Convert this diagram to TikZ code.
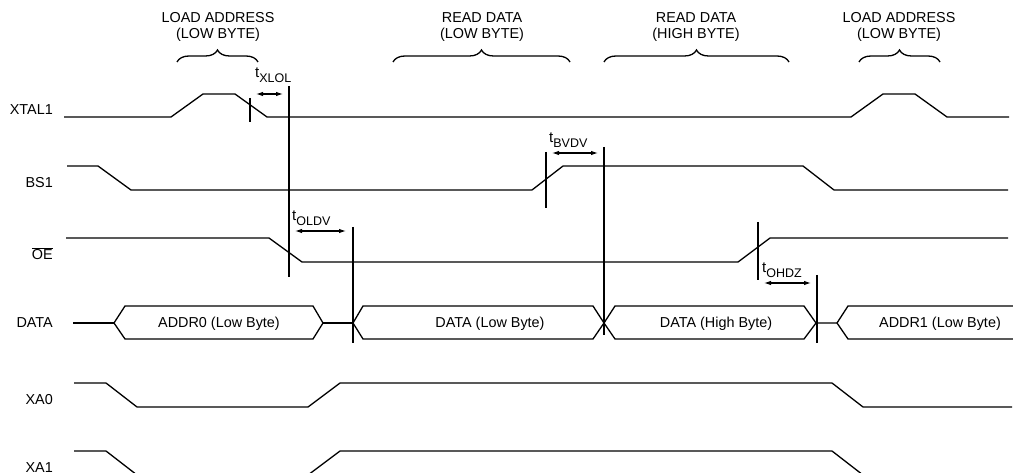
\documentclass[tikz,border=0pt]{standalone}
\usepackage{fontspec}
\setmainfont{Liberation Sans}
\usetikzlibrary{arrows.meta,decorations.pathreplacing}
\newcommand\tsb[1]{\raisebox{-0.28em}{\fontsize{12.5bp}{12.5bp}\selectfont #1}}
\begin{document}
\begin{tikzpicture}[x=1bp,y=-1bp,
 wave/.style={line width=1.3bp,line join=miter,line cap=butt},
 vrule/.style={line width=1.1bp},
 dimarr/.style={line width=1.1bp,{Latex[length=7bp,width=4.5bp]}-{Latex[length=7bp,width=4.5bp]}},
 txt/.style={font=\fontsize{14.4bp}{16bp}\selectfont, inner sep=0pt},
 sigl/.style={txt,anchor=base east},
 tlab/.style={txt,anchor=base west,font=\fontsize{15bp}{16bp}\selectfont},
 brc/.style={decorate,decoration={brace,amplitude=12bp},line width=1.3bp}]
\clip (0,0) rectangle (1013,473);
\fill[white] (0,0) rectangle (1013,473);
% signal names
\node[sigl] (nx) at (53,115) {XTAL1};
\node[sigl] (nb) at (53,188) {BS1};
\node[sigl] (no) at (53,260) {$\overline{\mbox{OE}}$};
\node[sigl] (nd) at (53,328) {DATA};
\node[sigl] (na0) at (53,405) {XA0};
\node[sigl] (na1) at (53,472) {XA1};
% phase labels
\node[txt,anchor=base] (p1a) at (218,23) {LOAD ADDRESS};
\node[txt,anchor=base] (p1b) at (218,39) {(LOW BYTE)};
\node[txt,anchor=base] (p2a) at (482,23) {READ DATA};
\node[txt,anchor=base] (p2b) at (482,39) {(LOW BYTE)};
\node[txt,anchor=base] (p3a) at (696,23) {READ DATA};
\node[txt,anchor=base] (p3b) at (696,39) {(HIGH BYTE)};
\node[txt,anchor=base] (p4a) at (899,23) {LOAD ADDRESS};
\node[txt,anchor=base] (p4b) at (899,39) {(LOW BYTE)};
\draw[brc] (177,62) -- (258,62);
\draw[brc] (393,62) -- (570,62);
\draw[brc] (604,62) -- (789,62);
\draw[brc] (859,62) -- (940,62);
% waveforms
\draw[wave] (64,117) -- (171,117) -- (203,94) -- (235,94) -- (267,117) -- (851,117) -- (883,94) -- (915,94) -- (947,117) -- (1009,117);
\draw[wave] (67,166) -- (98,166) -- (131,190) -- (532,190) -- (563,166) -- (803,166) -- (834,190) -- (1008,190);
\draw[wave] (66,238) -- (269,238) -- (302,262) -- (738,262) -- (770,238) -- (1008,238);
\draw[wave] (73,323) -- (114,323);
\draw[wave] (114,323) -- (125,306) -- (313,306) -- (323,323) -- (313,339) -- (125,339) -- cycle;
\draw[wave] (323,323) -- (353,323);
\draw[wave] (353,323) -- (363,306) -- (593,306) -- (604,323) -- (593,339) -- (363,339) -- cycle;
\draw[wave] (604,323) -- (615,306) -- (804,306) -- (816,323) -- (804,339) -- (615,339) -- cycle;
\draw[wave] (816,323) -- (837,323) -- (848,306) -- (1013,306);
\draw[wave] (837,323) -- (848,339) -- (1013,339);
\draw[wave] (74,383) -- (106,383) -- (137,407) -- (308,407) -- (340,383) -- (832,383) -- (863,407) -- (1012,407);
\draw[wave] (74,451) -- (106,451) -- (137,475) -- (308,475) -- (340,451) -- (832,451) -- (863,475) -- (1012,475);
\node[txt,anchor=base] (d0) at (219,328) {ADDR0 (Low Byte)};
\node[txt,anchor=base] (d1) at (490,328) {DATA (Low Byte)};
\node[txt,anchor=base] (d2) at (716,328) {DATA (High Byte)};
\node[txt,anchor=base] (d3) at (940,328) {ADDR1 (Low Byte)};
% timing marks
\draw[vrule] (250,98) -- (250,122);
\draw[vrule] (289,86) -- (289,277);
\draw[dimarr] (256,94) -- (283,94);
\node[tlab] (t1) at (255,78) {t\tsb{XLOL}};
\draw[vrule] (546,152) -- (546,208);
\draw[vrule] (604,147) -- (604,335);
\draw[dimarr] (552,153) -- (598,153);
\node[tlab] (t2) at (549,143) {t\tsb{BVDV}};
\draw[vrule] (353,227) -- (353,343);
\draw[dimarr] (295,231) -- (346,231);
\node[tlab] (t3) at (292,221) {t\tsb{OLDV}};
\draw[vrule] (758,222) -- (758,280);
\draw[vrule] (817,275) -- (817,343);
\draw[dimarr] (764,283) -- (811,283);
\node[tlab] (t4) at (762,273) {t\tsb{OHDZ}};
\end{tikzpicture}
\end{document}
